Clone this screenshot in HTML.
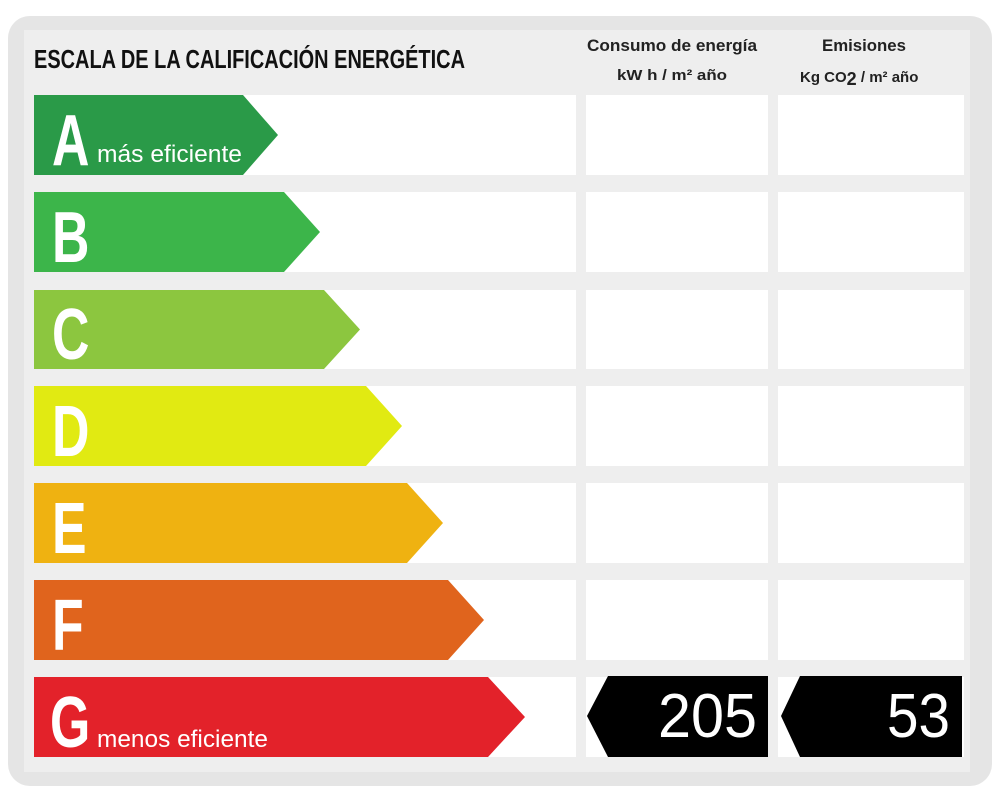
<!DOCTYPE html>
<html><head><meta charset="utf-8"><style>
body{margin:0;background:#fff}
svg{display:block}
text{font-family:"Liberation Sans Narrow","Liberation Sans",sans-serif;font-weight:bold}
</style></head><body>
<svg width="1000" height="800" viewBox="0 0 1000 800">
<rect x="8" y="16" width="984" height="770" rx="22" fill="#e5e5e5"/>
<rect x="24" y="30" width="946" height="742" fill="#eeeeee"/>
<text x="34" y="68" font-size="26" fill="#111" textLength="431" lengthAdjust="spacingAndGlyphs">ESCALA DE LA CALIFICACIÓN ENERGÉTICA</text>
<text x="587" y="51" font-size="17" fill="#222" textLength="170" lengthAdjust="spacingAndGlyphs" style="font-family:'Liberation Sans',sans-serif">Consumo de energía</text>
<text x="617" y="80" font-size="15" fill="#222" textLength="110" lengthAdjust="spacingAndGlyphs" style="font-family:'Liberation Sans',sans-serif">kW h / m² año</text>
<text x="822" y="51" font-size="17" fill="#222" textLength="84" lengthAdjust="spacingAndGlyphs" style="font-family:'Liberation Sans',sans-serif">Emisiones</text>
<text x="800" y="82" font-size="15" fill="#222" style="font-family:'Liberation Sans',sans-serif">Kg CO<tspan font-size="18" dy="3">2</tspan><tspan dy="-3"> / m²  año</tspan></text>
<g fill="#fff">
<rect x="34" y="95" width="542" height="80"/><rect x="586" y="95" width="182" height="80"/><rect x="778" y="95" width="186" height="80"/>
<rect x="34" y="192" width="542" height="80"/><rect x="586" y="192" width="182" height="80"/><rect x="778" y="192" width="186" height="80"/>
<rect x="34" y="290" width="542" height="79"/><rect x="586" y="290" width="182" height="79"/><rect x="778" y="290" width="186" height="79"/>
<rect x="34" y="386" width="542" height="80"/><rect x="586" y="386" width="182" height="80"/><rect x="778" y="386" width="186" height="80"/>
<rect x="34" y="483" width="542" height="80"/><rect x="586" y="483" width="182" height="80"/><rect x="778" y="483" width="186" height="80"/>
<rect x="34" y="580" width="542" height="80"/><rect x="586" y="580" width="182" height="80"/><rect x="778" y="580" width="186" height="80"/>
<rect x="34" y="677" width="542" height="80"/><rect x="586" y="677" width="182" height="80"/><rect x="778" y="677" width="186" height="80"/>
</g>
<polygon points="34,95 243,95 278,135 243,175 34,175" fill="#2a9a48"/>
<polygon points="34,192 284,192 320,232 284,272 34,272" fill="#3cb54a"/>
<polygon points="34,290 324,290 360,329.5 324,369 34,369" fill="#8cc63f"/>
<polygon points="34,386 366,386 402,426 366,466 34,466" fill="#e1ea12"/>
<polygon points="34,483 407,483 443,523 407,563 34,563" fill="#efb211"/>
<polygon points="34,580 448,580 484,620 448,660 34,660" fill="#e0641d"/>
<polygon points="34,677 488,677 525,717 488,757 34,757" fill="#e3222a"/>
<g fill="#fff" font-size="72">
<text transform="translate(52,165) scale(0.72,1)">A</text>
<text transform="translate(52,262) scale(0.72,1)">B</text>
<text transform="translate(52,359) scale(0.72,1)">C</text>
<text transform="translate(52,456) scale(0.72,1)">D</text>
<text transform="translate(52,553) scale(0.72,1)">E</text>
<text transform="translate(52,650) scale(0.72,1)">F</text>
<text transform="translate(50,747) scale(0.72,1)">G</text>
</g>
<text x="97" y="162" font-size="24" fill="#fff" textLength="145" lengthAdjust="spacingAndGlyphs" style="font-weight:normal">más eficiente</text>
<text x="97" y="747" font-size="24" fill="#fff" textLength="171" lengthAdjust="spacingAndGlyphs" style="font-weight:normal">menos eficiente</text>
<polygon points="608,676 768,676 768,757 608,757 587,716" fill="#000"/>
<polygon points="800,676 962,676 962,757 800,757 781,716" fill="#000"/>
<text x="658" y="737" font-size="62" fill="#fff" textLength="99" lengthAdjust="spacingAndGlyphs" style="font-weight:normal">205</text>
<text x="887" y="737" font-size="62" fill="#fff" textLength="63" lengthAdjust="spacingAndGlyphs" style="font-weight:normal">53</text>
</svg>
</body></html>
